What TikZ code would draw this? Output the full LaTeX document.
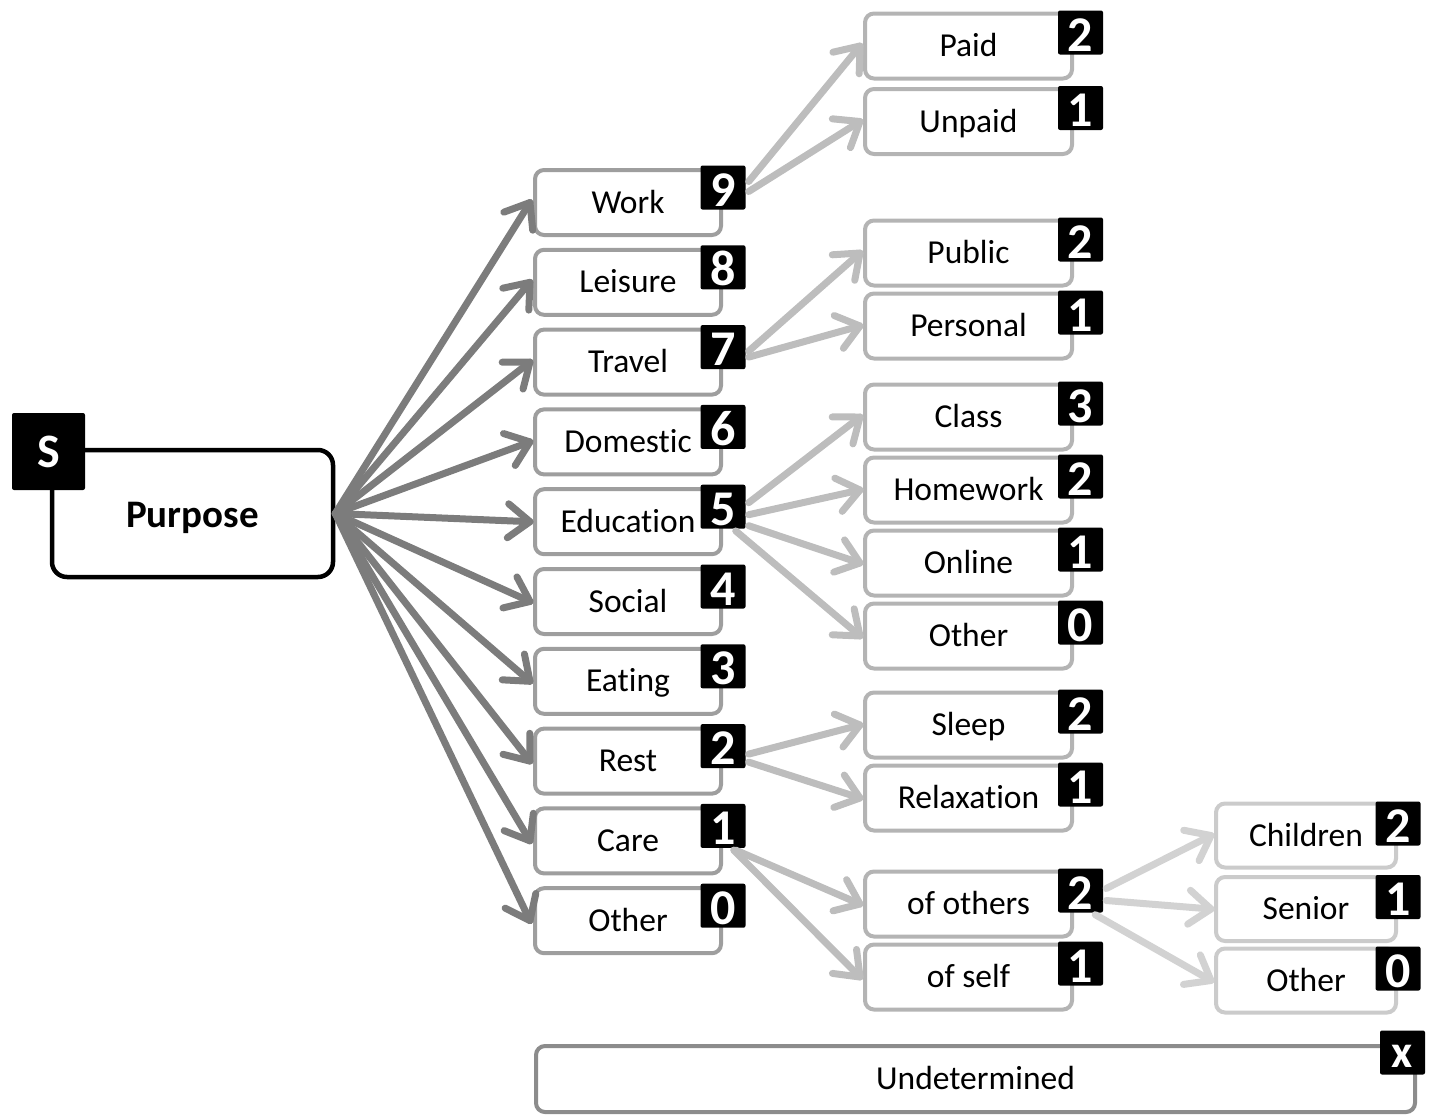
\documentclass[tikz,border=0pt]{standalone}
\usepackage{fontspec}
\setmainfont[Ligatures=NoCommon]{Carlito}
\usetikzlibrary{arrows.meta,decorations.markings}
\definecolor{cA}{HTML}{7C7C7C}
\definecolor{bA}{HTML}{9E9E9E}
\definecolor{cB}{HTML}{BDBDBD}
\definecolor{bB}{HTML}{B4B4B4}
\definecolor{cC}{HTML}{D2D2D2}
\definecolor{bC}{HTML}{CBCBCB}
\definecolor{bU}{HTML}{8C8C8C}
\begin{document}
\begin{tikzpicture}[x=1pt,y=-1pt,
  lab/.style={font=\fontsize{33.5}{38}\selectfont, text=black, inner sep=0pt, outer sep=0pt,
    rounded corners=9pt, fill=white, line width=4pt, text height=28pt, text depth=7pt},
  boxA/.style={lab, draw=bA, minimum width=186pt, minimum height=65pt},
  boxB/.style={lab, draw=bB, minimum width=207pt, minimum height=65pt},
  boxC/.style={lab, draw=bC, minimum width=180pt, minimum height=64pt},
  badge/.style={fill=black, text=white, font=\fontsize{50}{50}\selectfont\bfseries,
    minimum width=45pt, minimum height=44pt, inner sep=0pt, rounded corners=2pt,
    text height=39pt, text depth=2pt},
  chev/.style={postaction={decorate, decoration={markings, mark=at position 1 with {
    \draw[draw=#1, line width=7pt, line cap=round, line join=round]
      (-22pt,17pt) -- (0pt,0pt) -- (-22pt,-17pt);}}}},
  arrA/.style={draw=cA, line width=7pt, line cap=round, chev=cA},
  arrB/.style={draw=cB, line width=7pt, line cap=round, chev=cB},
  arrC/.style={draw=cC, line width=7pt, line cap=round, chev=cC}]
\useasboundingbox (0,0) rectangle (1432,1114);

% ---------------- root
\node[draw=black, line width=4.5pt, rounded corners=15pt, fill=white, minimum width=281pt,
  minimum height=127pt, inner sep=0pt, font=\fontsize{39}{42}\selectfont\bfseries,
  text height=34pt, text depth=6pt] (purpose) at (192.5,513.5) {Purpose};

% ---------------- level 1 boxes
\foreach \nm/\tx/\k in {work/Work/0, leisure/Leisure/1, travel/Travel/2, domestic/Domestic/3,
  education/Education/4, social/Social/5, eating/Eating/6, rest/Rest/7, care/Care/8, otherA/Other/9}{
  \node[boxA] (\nm) at (628,202.5+79.8*\k) {\tx};
}

% ---------------- level 2 boxes
\node[boxB] (paid) at (968.5,46) {Paid};
\node[boxB] (unpaid) at (968.5,121.5) {Unpaid};
\node[boxB] (public) at (968.5,253) {Public};
\node[boxB] (personal) at (968.5,326) {Personal};
\node[boxB] (class) at (968.5,417) {Class};
\node[boxB] (homework) at (968.5,490) {Homework};
\node[boxB] (online) at (968.5,563) {Online};
\node[boxB] (otherB) at (968.5,636) {Other};
\node[boxB] (sleep) at (968.5,725) {Sleep};
\node[boxB] (relax) at (968.5,798) {Relaxation};
\node[boxB] (others) at (968.5,904) {of others};
\node[boxB] (self) at (968.5,977) {of self};

% ---------------- level 3 boxes
\node[boxC] (children) at (1306,835.5) {Children};
\node[boxC] (senior) at (1306,909) {Senior};
\node[boxC] (otherC) at (1306,980.5) {Other};

% ---------------- undetermined
\node[lab, draw=bU, minimum width=879pt, minimum height=66pt] (undet) at (975.5,1079) {Undetermined};

% ---------------- arrows level 1
\foreach \nm in {work,leisure,travel,domestic,education,social,eating,rest,care,otherA}{
  \draw[arrA] (purpose.east) -- ([xshift=-5pt]\nm.west);
}

% ---------------- badges
\node[fill=black, text=white, font=\fontsize{48}{48}\selectfont\bfseries, minimum width=73pt,
  minimum height=77pt, inner sep=0pt, rounded corners=2pt, text height=34pt, text depth=3pt]
  (bS) at (48.5,451.5) {S};

\foreach \nm/\v/\k in {work/9/0, leisure/8/1, travel/7/2, domestic/6/3, education/5/4,
  social/4/5, eating/3/6, rest/2/7, care/1/8, otherA/0/9}{
  \node[badge] (b\nm) at (723,187.5+79.8*\k) {\v};
}
\foreach \nm/\v in {paid/2, unpaid/1, public/2, personal/1, class/3, homework/2, online/1,
  otherB/0, sleep/2, relax/1, others/2, self/1}{
  \node[badge] (b\nm) at ([xshift=8.5pt,yshift=13.5pt]\nm.east) {\v};
}
\foreach \nm/\v in {children/2, senior/1, otherC/0}{
  \node[badge] (b\nm) at ([xshift=2pt,yshift=12pt]\nm.east) {\v};
}
\node[badge, font=\fontsize{46}{46}\selectfont\bfseries, text height=31pt] (bundet) at (1402.5,1052.5) {x};

% ---------------- arrows level 2
\draw[arrB] ([xshift=3pt,yshift=6pt]bwork.east) -- ([xshift=-5pt]paid.west);
\draw[arrB] ([xshift=3pt,yshift=-4pt]bwork.east) -- ([xshift=-5pt]unpaid.west);
\draw[arrB] ([xshift=3pt,yshift=-4pt]btravel.east) -- ([xshift=-5pt]public.west);
\draw[arrB] ([xshift=3pt,yshift=-10pt]btravel.east) -- ([xshift=-5pt]personal.west);
\draw[arrB] ([xshift=3pt,yshift=4pt]beducation.east) -- ([xshift=-5pt]class.west);
\draw[arrB] ([xshift=3pt,yshift=-8pt]beducation.east) -- ([xshift=-5pt]homework.west);
\draw[arrB] ([xshift=3pt,yshift=-19pt]beducation.east) -- ([xshift=-5pt]online.west);
\draw[arrB] ([xshift=-10pt,yshift=-2pt]beducation.south east) -- ([xshift=-5pt]otherB.west);
\draw[arrB] ([xshift=3pt,yshift=-8pt]brest.east) -- ([xshift=-5pt]sleep.west);
\draw[arrB] ([xshift=3pt,yshift=-16pt]brest.east) -- ([xshift=-5pt]relax.west);
\draw[arrB] ([xshift=-10pt,yshift=-2pt]bcare.south east) -- ([xshift=-5pt]others.west);
\draw[arrB] ([xshift=-12pt,yshift=-2pt]bcare.south east) -- ([xshift=-5pt]self.west);

% ---------------- arrows level 3
\draw[arrC] ([xshift=3pt,yshift=2pt]bothers.east) -- ([xshift=-5pt]children.west);
\draw[arrC] ([xshift=3pt,yshift=-10pt]bothers.east) -- ([xshift=-5pt]senior.west);
\draw[arrC] ([xshift=-8pt,yshift=-2pt]bothers.south east) -- ([xshift=-5pt]otherC.west);
\end{tikzpicture}
\end{document}
